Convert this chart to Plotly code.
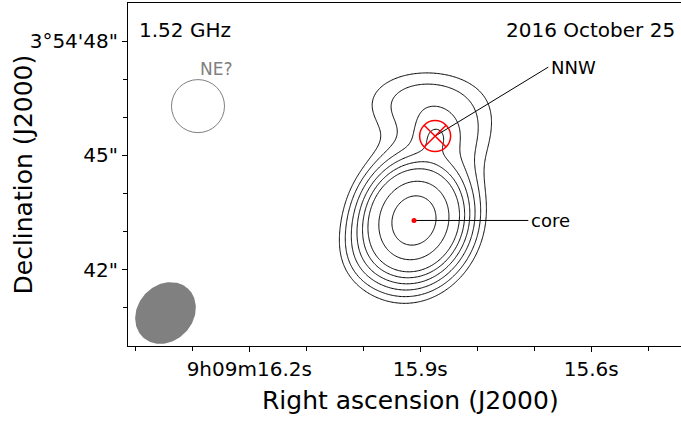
import numpy as np
import plotly.graph_objects as go

# ---------------- data ----------------
# positions: RA seconds of 9h09m, Dec arcsec of +3d54'
core_ra, core_dec = 15.911, 43.294
nnw_ra, nnw_dec = 15.874, 45.507
ne_ra, ne_dec, ne_radius = 16.290, 46.294, 0.696          # arcsec
beam_ra, beam_dec = 16.347, 40.866
beam_major, beam_minor, beam_pa = 1.74, 1.46, -42.3       # arcsec FWHM, deg E of N
core_label_ra = 15.7105
nnw_label_ra, nnw_label_dec = 15.6754, 47.318
ne_label_ra, ne_label_dec = 16.259, 47.257

# source model components (offsets from core in arcsec: west, north)
comp_names = ['core', 'core base', 'north', 'NNW knot', 'north-west flank', 'south-east flank']
comp_dx = [0.0, 0.0, 0.315, 0.551, 1.444, -1.181]
comp_dy = [0.0, 0.0, 3.097, 2.205, 2.100, -0.919]
comp_amp = [0.85, 0.20, 0.048, 0.030, 0.020, 0.015]
comp_sx = [0.525, 0.919, 1.31, 0.367, 0.656, 0.577]
comp_sy = [0.604, 1.102, 0.735, 0.367, 0.656, 0.577]
comp_theta = [-20.0, -20.0, 0.0, 0.0, 0.0, 0.0]           # deg

contour_levels = [0.028, 0.04, 0.057, 0.08, 0.113, 0.16, 0.32, 0.64]

ra_ticks = [16.2, 15.9, 15.6]
ra_ticktext = ['9h09m16.2s', '15.9s', '15.6s']
ra_minor = [16.4, 16.3, 16.1, 16.0, 15.8, 15.7, 15.5]
dec_ticks = [48, 45, 42]
dec_ticktext = ['3°54\'48"', '45"', '42"']
dec_minor = [41, 43, 44, 46, 47]

# ---------------- build ----------------
COSD = np.cos(np.radians(3 + 54/60 + 45/3600))
S2A = 15 * COSD  # arcsec per RA second

ra_grid = np.linspace(16.42, 15.43, 420)
dec_grid = np.linspace(39.9, 49.1, 400)
RA, DE = np.meshgrid(ra_grid, dec_grid)
X = (core_ra - RA) * S2A
Y = DE - core_dec
Z = np.zeros_like(X)
for dx, dy, amp, sx, sy, th in zip(comp_dx, comp_dy, comp_amp, comp_sx, comp_sy, comp_theta):
    c, s = np.cos(np.radians(th)), np.sin(np.radians(th))
    u = c*(X-dx) + s*(Y-dy)
    v = -s*(X-dx) + c*(Y-dy)
    Z += amp*np.exp(-0.5*((u/sx)**2 + (v/sy)**2))

fig = go.Figure()
for L in contour_levels:
    fig.add_trace(go.Contour(x=ra_grid, y=dec_grid, z=Z, showscale=False,
        contours=dict(start=L, end=L, size=1, coloring='none'),
        line=dict(color='black', width=1), hoverinfo='skip'))

# beam
t = np.linspace(0, 2*np.pi, 160)
pa = np.radians(beam_pa)
a, b = beam_major/2, beam_minor/2
north = a*np.cos(t)*np.cos(pa) - b*np.sin(t)*np.sin(pa)
east = a*np.cos(t)*np.sin(pa) + b*np.sin(t)*np.cos(pa)
fig.add_trace(go.Scatter(x=beam_ra + east/S2A, y=beam_dec + north, fill='toself',
    fillcolor='#808080', line=dict(width=0), mode='lines', hoverinfo='skip'))

# NE? circle
fig.add_shape(type='circle', xref='x', yref='y',
    x0=ne_ra + ne_radius/S2A, x1=ne_ra - ne_radius/S2A,
    y0=ne_dec - ne_radius, y1=ne_dec + ne_radius,
    line=dict(color='#808080', width=1))

# label lines and markers
fig.add_trace(go.Scatter(x=[core_ra, core_label_ra], y=[core_dec, core_dec], mode='lines',
    line=dict(color='black', width=1), hoverinfo='skip'))
fig.add_trace(go.Scatter(x=[nnw_ra, nnw_label_ra], y=[nnw_dec, nnw_label_dec], mode='lines',
    line=dict(color='black', width=1), hoverinfo='skip'))
fig.add_trace(go.Scatter(x=[core_ra], y=[core_dec], mode='markers',
    marker=dict(color='red', size=5), hoverinfo='skip'))
fig.add_trace(go.Scatter(x=[nnw_ra], y=[nnw_dec], mode='markers',
    marker=dict(symbol='circle-x-open', size=31, color='red', line=dict(color='red', width=1.5)),
    hoverinfo='skip'))

F = 'DejaVu Sans'
ann = [
    dict(x=core_label_ra, y=core_dec, text='core', xanchor='left', yanchor='middle', xshift=1,
         font=dict(size=18, color='black')),
    dict(x=nnw_label_ra, y=nnw_label_dec, text='NNW', xanchor='left', yanchor='middle', xshift=1,
         font=dict(size=18, color='black')),
    dict(x=ne_label_ra, y=ne_label_dec, text='NE?', xanchor='center', yanchor='middle',
         font=dict(size=17, color='#808080')),
    dict(x=(137-128)/553, y=(346-30)/343, xref='paper', yref='paper', text='1.52 GHz',
         xanchor='left', yanchor='middle', font=dict(size=20, color='black')),
    dict(x=(677-128)/553, y=(346-30)/343, xref='paper', yref='paper', text='2016 October 25',
         xanchor='right', yanchor='middle', font=dict(size=20, color='black')),
    dict(x=(410.7-128)/553, y=(346-400)/343, xref='paper', yref='paper', text='Right ascension (J2000)',
         xanchor='center', yanchor='middle', font=dict(size=25, color='black')),
    dict(x=(23-128)/553, y=0.5, xref='paper', yref='paper', text='Declination (J2000)', textangle=-90,
         xanchor='center', yanchor='middle', font=dict(size=25, color='black')),
]
for a_ in ann:
    if 'xref' not in a_:
        a_['xref'] = 'x'
        a_['yref'] = 'y'
    a_['showarrow'] = False

fig.update_layout(width=681, height=421, margin=dict(l=128, r=0, t=3, b=75),
    plot_bgcolor='white', paper_bgcolor='white', showlegend=False,
    font=dict(family=F, color='black'), annotations=ann,
    xaxis=dict(range=[16.4128, 15.4426], showline=True, linecolor='black', linewidth=1, mirror=True,
        ticks='outside', ticklen=5, tickcolor='black', tickvals=ra_ticks, ticktext=ra_ticktext,
        tickfont=dict(size=20), showgrid=False, zeroline=False,
        minor=dict(tickvals=ra_minor, ticklen=4, ticks='outside', tickcolor='black', showgrid=False)),
    yaxis=dict(range=[40, 49], showline=True, linecolor='black', linewidth=1,
        ticks='outside', ticklen=5, tickcolor='black', tickvals=dec_ticks, ticktext=dec_ticktext,
        tickfont=dict(size=20), showgrid=False, zeroline=False,
        minor=dict(tickvals=dec_minor, ticklen=4, ticks='outside', tickcolor='black', showgrid=False)))

fig.write_html('out.html', post_script="document.body.style.margin='0px';",
               config={'displayModeBar': False})
